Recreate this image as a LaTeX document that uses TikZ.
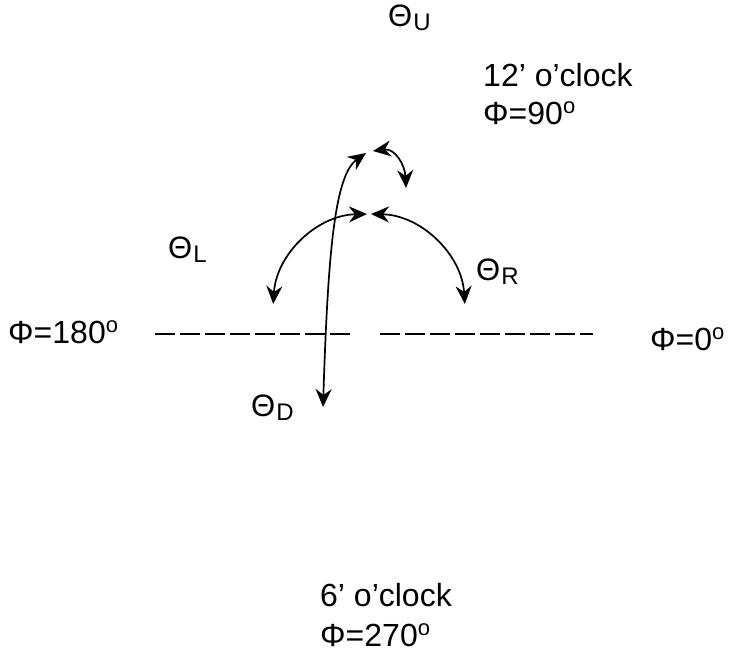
\documentclass[tikz,border=0pt]{standalone}
\usepackage{graphicx}
\usepackage{fontspec}
\setmainfont{Liberation Sans}
\usetikzlibrary{arrows.meta}
\newcommand{\thetalab}[1]{{\fontsize{31}{32}\selectfont Θ}\kern1pt\raisebox{-4pt}{\fontsize{24}{25}\selectfont #1}}
\newcommand{\degsup}{\raisebox{11pt}{\fontsize{22}{22}\selectfont o}}
\begin{document}
\begin{tikzpicture}[x=1pt,y=1pt,
  lab/.style={inner sep=0pt, anchor=base west, font=\fontsize{32}{38}\selectfont},
  ln/.style={line width=1.7pt},
  dashln/.style={line width=1.6pt, dash pattern=on 20pt off 5pt},
  both/.style={{Stealth[length=18pt,width=16pt,inset=6pt]}-{Stealth[length=18pt,width=16pt,inset=6pt]}},
  ]
\useasboundingbox (0,0) rectangle (730,-654);
% labels
\node[lab] (tu) at (388,-26) {\thetalab{U}};
\node[lab] (t12) at (483,-86) {12’ o’clock};
\node[lab] (p90) at (483,-124) {Φ=90\degsup};
\node[lab] (tl) at (168,-258) {\thetalab{L}};
\node[lab] (tr) at (476,-280) {\thetalab{R}};
\node[lab] (p180) at (8,-343) {Φ=180\degsup};
\node[lab] (p0) at (650,-350) {Φ=0\degsup};
\node[lab] (td) at (251,-416) {\thetalab{D}};
\node[lab] (t6) at (320,-606) {6’ o’clock};
\node[lab] (p270) at (320,-646) {Φ=270\degsup};
% dashed horizon
\coordinate (dl1) at (155,-334); \coordinate (dl2) at (350,-334);
\coordinate (dr1) at (380,-334); \coordinate (dr2) at (593,-334);
\draw[dashln] (dl1) -- (dl2);
\draw[dashln] (dr1) -- (dr2);
% big arcs (circle centre (369,-310), r=96)
\coordinate (la) at (366.99,-214.02);
\coordinate (ra) at (371.01,-214.02);
\draw[ln, both] (la) arc[start angle=91.2, end angle=176.4, radius=96];
\draw[ln, both] (ra) arc[start angle=88.8, end angle=3.6, radius=96];
% small arc
\coordinate (sa1) at (373,-151);
\coordinate (sa2) at (406,-188);
\draw[ln, both] (sa1) .. controls (395,-148) and (405,-165) .. (sa2);
% long curve
\coordinate (cb) at (323,-407);
\coordinate (ct) at (366,-153);
\draw[ln, both] (cb) .. controls (328,-250) and (335,-175) .. (ct);
\end{tikzpicture}
\end{document}
